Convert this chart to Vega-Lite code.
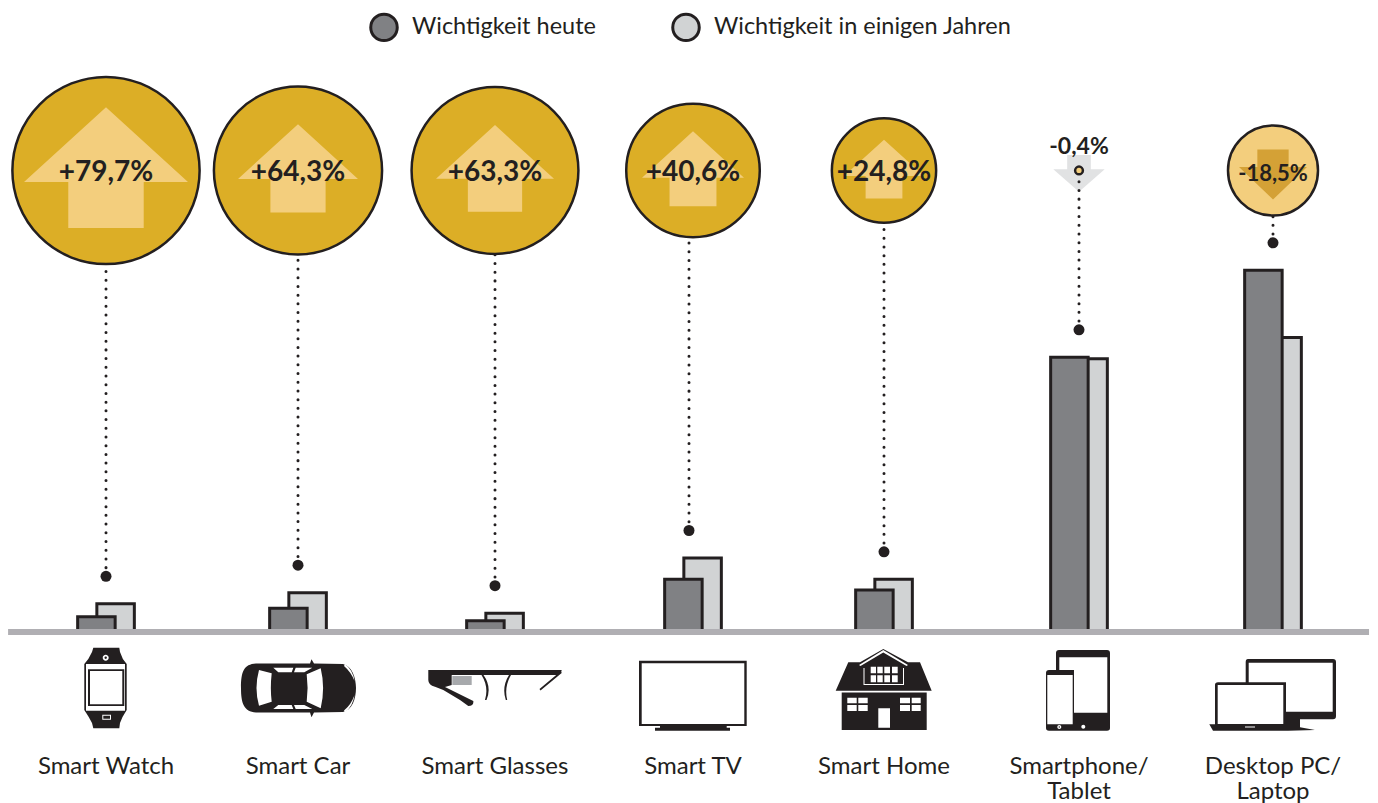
{
"$schema":"https://vega.github.io/schema/vega-lite/v6.json",
"width":1378,"height":803,"autosize":{"type":"none"},"padding":0,"background":"white",
"config":{"view":{"stroke":null},"font":"Lato","text":{"font":"Lato"}},
"datasets":{
"balken":[
{"thema":"Smart Watch","nr":1,"serie":"Wichtigkeit heute","wert":2.1},
{"thema":"Smart Watch","nr":1,"serie":"Wichtigkeit in einigen Jahren","wert":3.9},
{"thema":"Smart Car","nr":2,"serie":"Wichtigkeit heute","wert":3.3},
{"thema":"Smart Car","nr":2,"serie":"Wichtigkeit in einigen Jahren","wert":5.45},
{"thema":"Smart Glasses","nr":3,"serie":"Wichtigkeit heute","wert":1.55},
{"thema":"Smart Glasses","nr":3,"serie":"Wichtigkeit in einigen Jahren","wert":2.6},
{"thema":"Smart TV","nr":4,"serie":"Wichtigkeit heute","wert":7.3},
{"thema":"Smart TV","nr":4,"serie":"Wichtigkeit in einigen Jahren","wert":10.25},
{"thema":"Smart Home","nr":5,"serie":"Wichtigkeit heute","wert":5.8},
{"thema":"Smart Home","nr":5,"serie":"Wichtigkeit in einigen Jahren","wert":7.3},
{"thema":"Smartphone/Tablet","nr":6,"serie":"Wichtigkeit heute","wert":38.05},
{"thema":"Smartphone/Tablet","nr":6,"serie":"Wichtigkeit in einigen Jahren","wert":37.85},
{"thema":"Desktop PC/Laptop","nr":7,"serie":"Wichtigkeit heute","wert":50.1},
{"thema":"Desktop PC/Laptop","nr":7,"serie":"Wichtigkeit in einigen Jahren","wert":40.8}
],
"themen":[
{"thema":"Smart Watch","zeilen":["Smart Watch"],"nr":1,"label":"+79,7%","betrag":79.7,"trend":"steigend"},
{"thema":"Smart Car","zeilen":["Smart Car"],"nr":2,"label":"+64,3%","betrag":64.3,"trend":"steigend"},
{"thema":"Smart Glasses","zeilen":["Smart Glasses"],"nr":3,"label":"+63,3%","betrag":63.3,"trend":"steigend"},
{"thema":"Smart TV","zeilen":["Smart TV"],"nr":4,"label":"+40,6%","betrag":40.6,"trend":"steigend"},
{"thema":"Smart Home","zeilen":["Smart Home"],"nr":5,"label":"+24,8%","betrag":24.8,"trend":"steigend"},
{"thema":"Smartphone/Tablet","zeilen":["Smartphone/","Tablet"],"nr":6,"label":"-0,4%","betrag":0.4,"trend":"stabil"},
{"thema":"Desktop PC/Laptop","zeilen":["Desktop PC/","Laptop"],"nr":7,"label":"-18,5%","betrag":18.5,"trend":"fallend"}
],
"grundlinie":[{"von":0.49,"bis":7.495,"wert":0}]
},
"encoding":{
"x":{"field":"nr","type":"quantitative","axis":null,"scale":{"domain":[1,2,3,4,5,6,7],"range":[106,298,495,693,884,1079,1273],"nice":false,"zero":false,"padding":0}}
},
"resolve":{"scale":{"size":"independent","shape":"independent"}},
"layer":[
{"data":{"name":"balken"},"transform":[{"filter":"datum.serie==='Wichtigkeit in einigen Jahren'"}],
"mark":{"type":"bar","orient":"vertical","width":37.5,"xOffset":9.6,"stroke":"#231f20","strokeWidth":3},
"encoding":{"y":{"field":"wert","type":"quantitative","stack":null,"axis":null,"scale":{"domain":[0,100],"range":[632,-90],"nice":false}},
"fill":{"field":"serie","type":"nominal","scale":{"domain":["Wichtigkeit heute","Wichtigkeit in einigen Jahren"],"range":["#808184","#D1D3D4"]},
"legend":{"orient":"none","legendX":369,"legendY":12,"direction":"horizontal","title":null,"symbolType":"circle","symbolSize":702,"symbolStrokeColor":"#231f20","symbolStrokeWidth":3,"labelFont":"Lato","labelFontSize":23.5,"labelColor":"#231f20","labelLimit":500,"labelOffset":13,"columnPadding":70}}}},
{"data":{"name":"balken"},"transform":[{"filter":"datum.serie==='Wichtigkeit heute'"}],
"mark":{"type":"bar","orient":"vertical","width":37.5,"xOffset":-9.6,"stroke":"#231f20","strokeWidth":3},
"encoding":{"y":{"field":"wert","type":"quantitative","stack":null,"axis":null},
"fill":{"field":"serie","type":"nominal"}}},
{"data":{"name":"grundlinie"},
"mark":{"type":"rule","color":"#B0AFB3","strokeWidth":6},
"encoding":{"x":{"field":"von","type":"quantitative"},"x2":{"field":"bis"},"y":{"field":"wert","type":"quantitative"}}},
{"data":{"name":"themen"},"transform":[{"filter":"datum.trend==='stabil'"}],
"mark":{"type":"point","filled":true,"fill":"#E1E2E3","opacity":1,"strokeWidth":0,"shape":"M-.46,-.6 L.46,-.6 L.46,-.05 L1,-.05 L0,.83 L-1,-.05 L-.46,-.05 Z"},
"encoding":{"y":{"datum":63.92,"type":"quantitative"},"size":{"value":2640}}},
{"data":{"name":"balken"},
"mark":{"type":"rule","color":"#231f20","strokeWidth":3,"strokeCap":"round","strokeDash":[0.01,8.7],"yOffset":-27.5,"xOffset":{"expr":"datum.nr===4?-4:0"}},
"encoding":{"y":{"aggregate":"max","field":"wert","type":"quantitative"},"y2":{"datum":63.92}}},
{"data":{"name":"balken"},
"mark":{"type":"point","filled":true,"shape":"circle","fill":"#231f20","opacity":1,"strokeWidth":0,"size":121,"yOffset":-27.5,"xOffset":{"expr":"datum.nr===4?-4:0"}},
"encoding":{"y":{"aggregate":"max","field":"wert","type":"quantitative"}}},
{"data":{"name":"themen"},
"mark":{"type":"point","filled":false,"shape":"circle","stroke":"#231f20","strokeWidth":2.5,"opacity":1},
"encoding":{"y":{"datum":63.92,"type":"quantitative"},
"fill":{"condition":{"test":"datum.trend==='steigend'","value":"#DCAE26"},"value":"#F3CE7D"},
"size":{"field":"betrag","type":"quantitative","legend":null,"scale":{"domain":[0.4,18.5,100],"range":[60,8100,44000],"zero":false,"nice":false}}}},
{"data":{"name":"themen"},"transform":[{"filter":"datum.trend==='steigend'"}],
"mark":{"type":"point","filled":true,"fill":"#F3CE7D","opacity":1,"strokeWidth":0,"shape":"M0,-.77 L1,.14 L.46,.14 L.46,.7 L-.46,.7 L-.46,.14 L-1,.14 Z"},
"encoding":{"y":{"datum":63.92,"type":"quantitative"},
"size":{"field":"betrag","type":"quantitative","legend":null,"scale":{"domain":[24.8,40.6,63.3,64.3,79.7],"range":[6400,10404,13924,14400,26896],"zero":false,"nice":false}}}},
{"data":{"name":"themen"},"transform":[{"filter":"datum.trend==='fallend'"}],
"mark":{"type":"point","filled":true,"fill":"#D4A136","opacity":1,"strokeWidth":0,"shape":"M-.46,-.62 L.46,-.62 L.46,-.1 L1,-.1 L0,.85 L-1,-.1 L-.46,-.1 Z"},
"encoding":{"y":{"datum":63.92,"type":"quantitative"},"size":{"value":4624}}},
{"data":{"name":"themen"},"transform":[{"filter":"datum.trend==='steigend'"}],
"mark":{"type":"text","font":"Lato","fontWeight":"bold","fontSize":28,"color":"#231f20","baseline":"middle","dy":3},
"encoding":{"y":{"datum":63.92,"type":"quantitative"},"text":{"field":"label"}}},
{"data":{"name":"themen"},"transform":[{"filter":"datum.trend==='fallend'"}],
"mark":{"type":"text","font":"Lato","fontWeight":"bold","fontSize":22,"color":"#231f20","baseline":"middle","dy":4},
"encoding":{"y":{"datum":63.92,"type":"quantitative"},"text":{"field":"label"}}},
{"data":{"name":"themen"},"transform":[{"filter":"datum.trend==='stabil'"}],
"mark":{"type":"text","font":"Lato","fontWeight":"bold","fontSize":23,"color":"#231f20","baseline":"middle","dy":-23.5},
"encoding":{"y":{"datum":63.92,"type":"quantitative"},"text":{"field":"label"}}},
{"data":{"name":"themen"},
"mark":{"type":"point","filled":true,"opacity":1,"strokeWidth":0,"fill":"#231f20"},
"encoding":{"y":{"datum":-8.03,"type":"quantitative"},"size":{"value":40000},
"shape":{"field":"thema","type":"nominal","legend":null,"scale":{"domain":["Smart Watch","Smart Car","Smart Glasses","Smart TV","Smart Home","Smartphone/Tablet","Desktop PC/Laptop"],"range":[
"M-.127,-.423 L.133,-.423 L.14,-.38 Q.16,-.31 .207,-.26 L.207,.2 Q.16,.27 .14,.33 L.133,.383 L-.127,.383 L-.14,.33 Q-.17,.27 -.217,.2 L-.217,-.26 Q-.17,-.31 -.14,-.38 Z",
"M-.57,-.02 C-.57,-.19 -.54,-.265 -.4,-.265 L.12,-.265 L.135,-.307 L.16,-.265 L.45,-.26 C.54,-.24 .58,-.12 .58,-.02 C.58,.09 .54,.2 .45,.22 L.16,.225 L.135,.273 L.12,.225 L-.4,.225 C-.54,.225 -.57,.14 -.57,-.02 Z",
"M-.667,-.2 L.667,-.2 L.66,-.17 L.64,-.15 L-.433,-.15 L-.433,-.05 L-.5,-.03 L-.217,.11 Q-.21,.16 -.267,.16 L-.35,.10 L-.517,0 L-.6,-.033 Q-.667,-.05 -.667,-.1 Z M.66,-.19 L.667,-.17 L.455,.005 L.445,-.01 Z M-.135,-.15 L-.115,-.15 Q-.03,-.03 -.085,.1 L-.1,.1 Q-.06,-.03 -.135,-.15 Z M.14,-.15 L.16,-.15 Q.09,-.03 .122,.1 L.108,.1 Q.065,-.03 .14,-.15 Z",
"M-.54,-.293 L.537,-.293 L.537,.36 L.337,.36 L.337,.377 L.37,.377 L.37,.407 L-.38,.407 L-.38,.377 L-.33,.377 L-.33,.36 L-.54,.36 Z",
"M-.483,.007 L-.357,-.277 L-.24,-.277 L-.007,-.41 L.24,-.277 L.36,-.277 L.477,.007 Z M-.423,.025 L.427,.025 L.427,.4 L-.423,.4 Z",
"M-.2,-.4 L.28,-.4 Q.31,-.4 .31,-.37 L.31,.38 Q.31,.407 .28,.407 L-.3,.407 Q-.33,.407 -.33,.38 L-.33,-.17 Q-.33,-.2 -.3,-.2 L-.23,-.2 L-.23,-.37 Q-.23,-.4 -.2,-.4 Z",
"M-.25,-.31 L.6,-.31 Q.63,-.31 .63,-.28 L.63,.26 Q.63,.293 .6,.293 L.27,.293 L.27,.373 L.42,.4 L.15,.407 L-.6,.407 L-.637,.343 L-.58,.343 L-.58,-.05 Q-.58,-.077 -.55,-.077 L-.273,-.077 L-.273,-.28 Q-.273,-.31 -.25,-.31 Z"
]}}}},
{"data":{"name":"themen"},
"mark":{"type":"point","filled":true,"opacity":1,"strokeWidth":0,"fill":"#FFFFFF"},
"encoding":{"y":{"datum":-8.03,"type":"quantitative"},"size":{"value":40000},
"shape":{"field":"thema","type":"nominal","legend":null,"scale":{"domain":["Smart Watch","Smart Car","Smart Glasses","Smart TV","Smart Home","Smartphone/Tablet","Desktop PC/Laptop"],"range":[
"M-.2,-.26 L.19,-.26 L.19,.207 L-.2,.207 Z M-.18,-.207 L-.18,.16 L.183,.16 L.183,-.207 Z M-.16,-.19 L.163,-.19 L.163,.143 L-.16,.143 Z M-.033,-.323 a.03,.03 0 1,1 .06,0 a.03,.03 0 1,1 -.06,0 Z M-.015,-.323 a.012,.012 0 1,0 .024,0 a.012,.012 0 1,0 -.024,0 Z M-.037,.247 L.05,.247 L.05,.297 L-.037,.297 Z M-.027,.257 L-.027,.287 L.04,.287 L.04,.257 Z",
"M-.39,-.2 L-.263,-.167 Q-.28,-.02 -.263,.117 L-.39,.157 Q-.44,-.02 -.39,-.2 Z M.087,-.157 L.227,-.217 Q.275,-.02 .227,.183 L.087,.117 Q.105,-.02 .087,-.157 Z M-.247,-.223 L-.047,-.223 L-.063,-.177 L-.197,-.177 Z M-.023,-.223 L.143,-.223 L.063,-.177 L-.04,-.177 Z M-.197,.15 L-.063,.15 L-.047,.19 L-.247,.19 Z M-.04,.15 L.063,.15 L.143,.19 L-.023,.19 Z M.47,-.26 Q.55,-.2 .565,-.09 Q.53,-.18 .46,-.24 Z M.565,.05 Q.55,.16 .47,.225 L.46,.205 Q.53,.15 .565,.05 Z",
"M-.001,0 L.001,0 L0,.001 Z",
"M-.513,-.267 L.513,-.267 L.513,.34 L-.513,.34 Z",
"M-.25,-.25 L-.007,-.4 L.24,-.25 L.225,-.24 L-.007,-.375 L-.235,-.24 Z M-.205,-.22 L-.195,-.22 L-.195,-.06 L.19,-.06 L.19,-.22 L.2,-.22 L.2,-.05 L-.205,-.05 Z M-.133,-.233 L-.08,-.233 L-.08,-.167 L-.133,-.167 Z M-.067,-.233 L-.013,-.233 L-.013,-.167 L-.067,-.167 Z M.003,-.233 L.06,-.233 L.06,-.167 L.003,-.167 Z M.08,-.233 L.137,-.233 L.137,-.167 L.08,-.167 Z M-.133,-.147 L-.08,-.147 L-.08,-.077 L-.133,-.077 Z M-.067,-.147 L-.013,-.147 L-.013,-.077 L-.067,-.077 Z M.003,-.147 L.06,-.147 L.06,-.077 L.003,-.077 Z M.08,-.147 L.137,-.147 L.137,-.077 L.08,-.077 Z M-.367,.077 L-.273,.077 L-.273,.133 L-.367,.133 Z M-.257,.077 L-.163,.077 L-.163,.133 L-.257,.133 Z M-.367,.15 L-.273,.15 L-.273,.21 L-.367,.21 Z M-.257,.15 L-.163,.15 L-.163,.21 L-.257,.21 Z M.16,.077 L.26,.077 L.26,.133 L.16,.133 Z M.277,.077 L.367,.077 L.367,.133 L.277,.133 Z M.16,.15 L.26,.15 L.26,.21 L.16,.21 Z M.277,.15 L.367,.15 L.367,.21 L.277,.21 Z M-.057,.183 L.06,.183 L.06,.377 L-.057,.377 Z",
"M-.197,-.327 L.283,-.327 L.283,.227 L-.05,.227 L-.05,-.2 L-.197,-.2 Z M-.317,-.15 L-.063,-.15 L-.063,.343 L-.317,.343 Z M.023,.367 a.02,.02 0 1,1 .04,0 a.02,.02 0 1,1 -.04,0 Z M-.217,.37 a.02,.02 0 1,1 .04,0 a.02,.02 0 1,1 -.04,0 Z M-.204,.37 a.007,.007 0 1,0 .014,0 a.007,.007 0 1,0 -.014,0 Z",
"M-.243,-.273 L.597,-.273 L.597,.217 L.13,.217 L.13,-.077 L-.243,-.077 Z M-.553,-.05 L.103,-.05 L.103,.34 L-.553,.34 Z M-.28,.365 L-.18,.365 L-.18,.375 L-.28,.375 Z"
]}}}},
{"data":{"name":"themen"},"transform":[{"filter":"datum.thema==='Smart Glasses'"}],
"mark":{"type":"point","filled":true,"opacity":1,"strokeWidth":0,"fill":"#A7A9AC","shape":"M-.427,-.14 L-.233,-.14 L-.233,-.05 L-.427,-.05 Z"},
"encoding":{"y":{"datum":-8.03,"type":"quantitative"},"size":{"value":40000}}},
{"data":{"name":"themen"},
"mark":{"type":"text","font":"Lato","fontSize":24,"color":"#231f20","baseline":"alphabetic","lineHeight":25},
"encoding":{"y":{"datum":-19.67,"type":"quantitative"},"text":{"field":"zeilen"}}}
]
}
